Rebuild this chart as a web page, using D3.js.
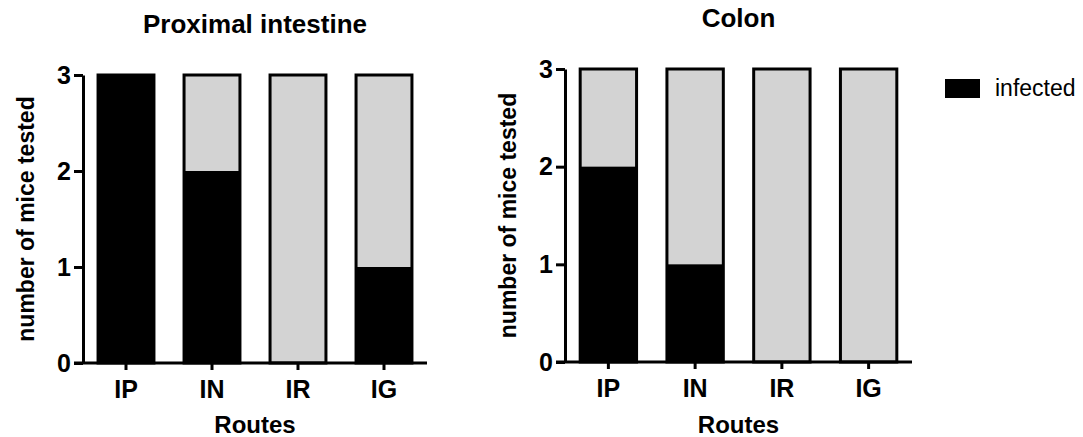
<!DOCTYPE html>
<html>
<head>
<meta charset="utf-8">
<script src="https://cdn.jsdelivr.net/npm/d3@7"></script>
<style>
  body { margin: 0; background: #fff; }
  svg { display: block; font-family: Arial, "Liberation Sans", sans-serif; }
  .axis path, .axis line { stroke: #000; stroke-width: 3px; }
  .axis text { font-weight: bold; fill: #000; }
</style>
</head>
<body>
<svg id="chart" width="1083" height="437"></svg>
<script>
// data
const routes = ['IP', 'IN', 'IR', 'IG'];
const yTicks = [0, 1, 2, 3];
const proximalInfected = [3, 2, 0, 1];
const proximalTested = [3, 3, 3, 3];
const colonInfected = [2, 1, 0, 0];
const colonTested = [3, 3, 3, 3];

const svg = d3.select('#chart');

const panels = [
  {title: 'Proximal intestine', infected: proximalInfected, tested: proximalTested,
   x0: 83, x1: 427, y0: 363, y1: 75, titleY: 33},
  {title: 'Colon', infected: colonInfected, tested: colonTested,
   x0: 565, x1: 912, y0: 362, y1: 69, titleY: 27}
];

panels.forEach(p => {
  const x = d3.scaleBand()
    .domain(routes)
    .range([p.x0, p.x1])
    .paddingInner(0.35)
    .paddingOuter(0.175);
  const y = d3.scaleLinear()
    .domain([0, 3])
    .range([p.y0, p.y1]);

  const g = svg.append('g');

  // total tested (grey)
  g.selectAll('rect.tested')
    .data(routes)
    .join('rect')
    .attr('class', 'tested')
    .attr('x', d => x(d))
    .attr('width', x.bandwidth())
    .attr('y', (d, i) => y(p.tested[i]))
    .attr('height', (d, i) => y(0) - y(p.tested[i]))
    .attr('fill', '#d3d3d3');

  // infected part (black)
  g.selectAll('rect.infected')
    .data(routes)
    .join('rect')
    .attr('class', 'infected')
    .attr('x', d => x(d))
    .attr('width', x.bandwidth())
    .attr('y', (d, i) => y(p.infected[i]))
    .attr('height', (d, i) => y(0) - y(p.infected[i]))
    .attr('fill', '#000');

  g.selectAll('rect.outline')
    .data(routes)
    .join('rect')
    .attr('class', 'outline')
    .attr('x', d => x(d))
    .attr('width', x.bandwidth())
    .attr('y', (d, i) => y(p.tested[i]))
    .attr('height', (d, i) => y(0) - y(p.tested[i]))
    .attr('fill', 'none')
    .attr('stroke', '#000')
    .attr('stroke-width', 3);

  // y axis
  const gy = g.append('g')
    .attr('class', 'axis')
    .attr('transform', 'translate(' + p.x0 + ',0)')
    .call(d3.axisLeft(y).tickValues(yTicks).tickFormat(d3.format('d'))
      .tickSize(9).tickSizeOuter(0).tickPadding(3));
  gy.selectAll('text').style('font-size', '25px');

  // x axis
  const gx = g.append('g')
    .attr('class', 'axis')
    .attr('transform', 'translate(0,' + p.y0 + ')')
    .call(d3.axisBottom(x).tickSize(7).tickSizeOuter(0).tickPadding(10));
  gx.select('.domain').remove();
  gx.selectAll('text').style('font-size', '25px');
  gx.append('line')
    .attr('x1', p.x0 - 9)
    .attr('x2', p.x1)
    .attr('stroke', '#000')
    .attr('stroke-width', 3);

  // labels
  g.append('text')
    .attr('x', (p.x0 + p.x1) / 2)
    .attr('y', p.titleY)
    .attr('text-anchor', 'middle')
    .style('font-weight', 'bold')
    .style('font-size', '26px')
    .text(p.title);

  g.append('text')
    .attr('x', (p.x0 + p.x1) / 2)
    .attr('y', 433)
    .attr('text-anchor', 'middle')
    .style('font-weight', 'bold')
    .style('font-size', '24px')
    .text('Routes');

  g.append('text')
    .attr('transform', 'translate(' + (p.x0 - 49) + ',' + ((p.y0 + p.y1) / 2) + ') rotate(-90)')
    .attr('text-anchor', 'middle')
    .style('font-weight', 'bold')
    .style('font-size', '23px')
    .text('number of mice tested');
});

// legend
const legend = svg.append('g').attr('transform', 'translate(945,79)');
legend.append('rect')
  .attr('width', 35)
  .attr('height', 19)
  .attr('fill', '#000');
legend.append('text')
  .attr('x', 50)
  .attr('y', 17)
  .style('font-size', '23px')
  .text('infected');
</script>
</body>
</html>
